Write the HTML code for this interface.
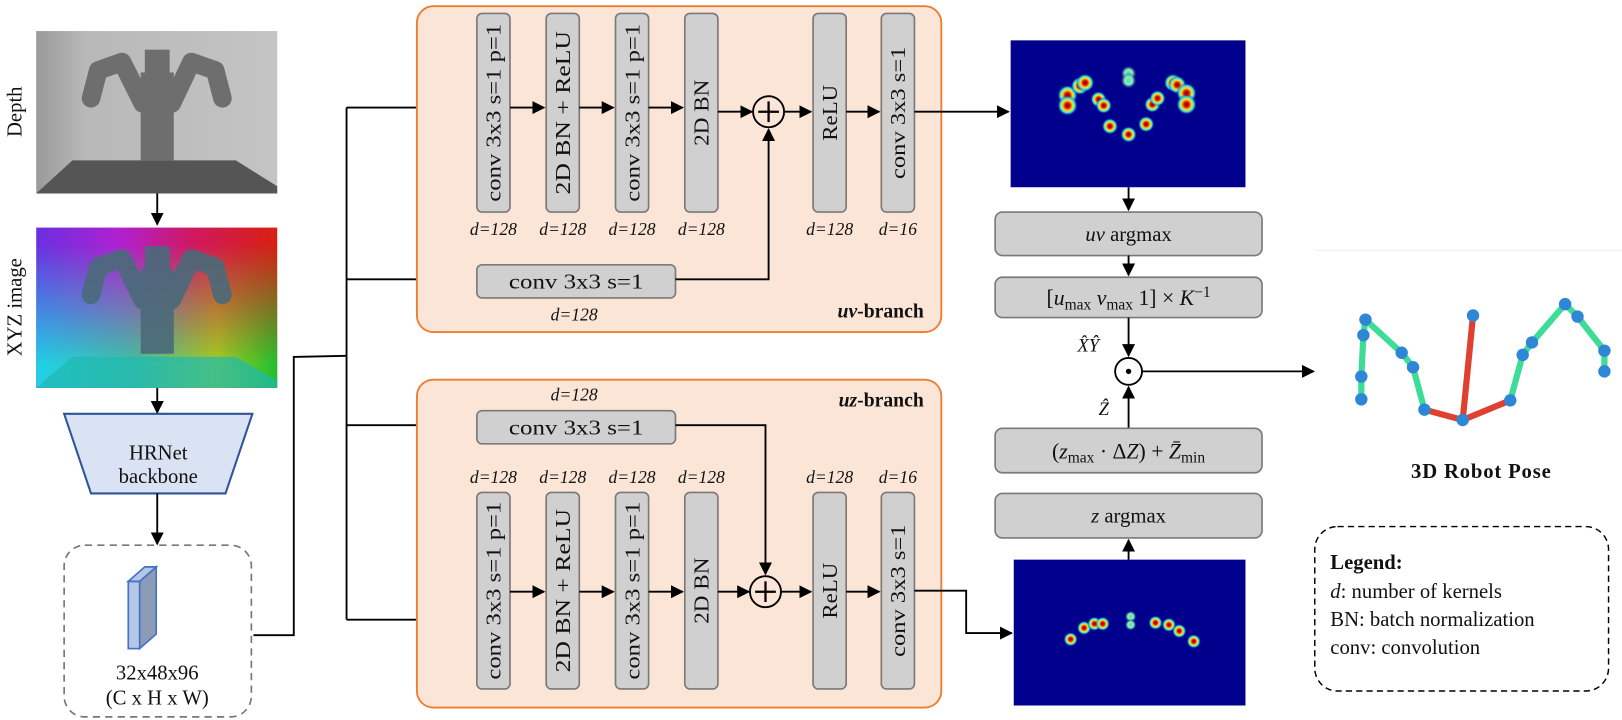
<!DOCTYPE html>
<html><head><meta charset="utf-8"><style>
html,body{margin:0;padding:0;background:#fff;}
svg{display:block;}
text{font-family:"Liberation Serif",serif;fill:#111;}
.bx{fill:#d0d0d0;stroke:#7a7a7a;stroke-width:1.6;}
.ln{stroke:#000;stroke-width:1.8;fill:none;}
.d{font-style:italic;font-size:17px;}
.t{font-size:20px;}
</style></head><body>
<svg width="1622" height="720" viewBox="0 0 1568 696" xmlns="http://www.w3.org/2000/svg">
<defs>
<marker id="a" viewBox="0 0 10 10" refX="9" refY="5" markerWidth="7" markerHeight="7" orient="auto-start-reverse"><path d="M0,0L10,5L0,10z" fill="#000"/></marker>
<radialGradient id="blob"><stop offset="0" stop-color="#800000"/><stop offset="0.25" stop-color="#e01010"/><stop offset="0.5" stop-color="#ffe020"/><stop offset="0.72" stop-color="#30e0e0"/><stop offset="1" stop-color="#0000a0" stop-opacity="0"/></radialGradient>
<radialGradient id="blob2"><stop offset="0" stop-color="#40e0f0"/><stop offset="0.5" stop-color="#90f0a0"/><stop offset="1" stop-color="#0000a0" stop-opacity="0"/></radialGradient>
<linearGradient id="dg" x1="0" x2="1"><stop offset="0" stop-color="#9a9a9a"/><stop offset="0.2" stop-color="#b8b8b8"/><stop offset="1" stop-color="#c4c4c4"/></linearGradient>
<linearGradient id="xt" x1="0" x2="1"><stop offset="0" stop-color="#6a30e0"/><stop offset="0.35" stop-color="#b020d0"/><stop offset="0.65" stop-color="#d01860"/><stop offset="1" stop-color="#d82010"/></linearGradient>
<linearGradient id="xb" x1="0" x2="1"><stop offset="0" stop-color="#20d0e8"/><stop offset="0.4" stop-color="#40c0a0"/><stop offset="0.75" stop-color="#a0d020"/><stop offset="1" stop-color="#20c030"/></linearGradient>
<linearGradient id="vm" x1="0" y1="0" x2="0" y2="1"><stop offset="0.1" stop-color="#fff" stop-opacity="0"/><stop offset="0.85" stop-color="#fff" stop-opacity="1"/></linearGradient>
<mask id="m"><rect x="35" y="220" width="233" height="155" fill="url(#vm)"/></mask>
</defs>

<!-- labels -->
<text transform="translate(21,108) rotate(-90)" text-anchor="middle" font-size="20">Depth</text>
<text transform="translate(21,297) rotate(-90)" text-anchor="middle" font-size="20">XYZ image</text>

<!-- depth image -->
<rect x="35" y="30" width="233" height="157" fill="url(#dg)"/>
<path d="M35,187 L70,155 L228,155 L268,180 L268,187 Z" fill="#555"/>
<g stroke="#6e6e6e" fill="none" stroke-linecap="round" stroke-linejoin="round">
<path d="M88,95 L95,68 L118,60 L138,100" stroke-width="18"/>
<path d="M215,95 L208,68 L185,60 L166,100" stroke-width="18"/>
<rect x="140" y="48" width="24" height="24" fill="#6e6e6e" stroke="none"/>
<rect x="136" y="70" width="32" height="85" fill="#6e6e6e" stroke="none"/>
</g>
<!-- xyz image -->
<rect x="35" y="220" width="233" height="155" fill="url(#xt)"/>
<rect x="35" y="220" width="233" height="155" fill="url(#xb)" mask="url(#m)"/>
<path d="M35,375 L70,345 L228,345 L268,368 L268,375 Z" fill="#20b8b0" opacity="0.7"/>
<g stroke="#4a6a7a" fill="none" stroke-linecap="round" stroke-linejoin="round" opacity="0.9">
<path d="M88,285 L95,258 L118,250 L138,290" stroke-width="18"/>
<path d="M215,285 L208,258 L185,250 L166,290" stroke-width="18"/>
<rect x="140" y="238" width="24" height="24" fill="#4a6a7a" stroke="none"/>
<rect x="136" y="260" width="32" height="82" fill="#4a6a7a" stroke="none"/>
</g>
<line class="ln" x1="152" y1="187" x2="152" y2="217" marker-end="url(#a)"/>
<line class="ln" x1="152" y1="375" x2="152" y2="399" marker-end="url(#a)"/>
<path d="M62,400 L244,400 L218,477 L88,477 Z" fill="#dae3f3" stroke="#2f5597" stroke-width="2"/>
<text x="153" y="444" text-anchor="middle" font-size="20">HRNet</text>
<text x="153" y="467" text-anchor="middle" font-size="20">backbone</text>
<line class="ln" x1="152" y1="477" x2="152" y2="526" marker-end="url(#a)"/>
<rect x="62" y="527" width="181" height="166" rx="20" fill="none" stroke="#777" stroke-width="1.6" stroke-dasharray="7,5"/>
<path d="M135,562 L151,548 L151,613 L135,627 Z" fill="#8c9bb8" stroke="#4472c4" stroke-width="1.6"/>
<rect x="124" y="562" width="11" height="65" fill="#b4c7e7" stroke="#4472c4" stroke-width="1.6"/>
<path d="M124,562 L140,548 L151,548 L135,562 Z" fill="#b4c7e7" stroke="#4472c4" stroke-width="1.6"/>
<text x="152" y="657" text-anchor="middle" font-size="20">32x48x96</text>
<text x="152" y="681" text-anchor="middle" font-size="20">(C x H x W)</text>

<!-- connectors -->
<path class="ln" d="M245,614 L284,614 L284,345 L335,344"/>
<line class="ln" x1="335" y1="104" x2="335" y2="599"/>
<line class="ln" x1="335" y1="104" x2="459" y2="104" marker-end="url(#a)"/>
<line class="ln" x1="335" y1="270" x2="459" y2="270" marker-end="url(#a)"/>
<line class="ln" x1="335" y1="411" x2="459" y2="411" marker-end="url(#a)"/>
<line class="ln" x1="335" y1="599" x2="459" y2="599" marker-end="url(#a)"/>

<!-- uv branch -->
<rect x="403" y="6" width="507" height="315" rx="16" fill="#fbe5d6" stroke="#ed7d31" stroke-width="1.8"/>
<rect class="bx" x="461" y="13" width="32" height="192" rx="5"/>
<rect class="bx" x="528" y="13" width="32" height="192" rx="5"/>
<rect class="bx" x="595" y="13" width="32" height="192" rx="5"/>
<rect class="bx" x="662" y="13" width="32" height="192" rx="5"/>
<rect class="bx" x="786" y="13" width="32" height="192" rx="5"/>
<rect class="bx" x="852" y="13" width="32" height="192" rx="5"/>
<text class="t" transform="translate(484,109) rotate(-90)" text-anchor="middle" textLength="172" lengthAdjust="spacingAndGlyphs">conv 3x3 s=1 p=1</text>
<text class="t" transform="translate(551,109) rotate(-90)" text-anchor="middle" textLength="158" lengthAdjust="spacingAndGlyphs">2D BN + ReLU</text>
<text class="t" transform="translate(618,109) rotate(-90)" text-anchor="middle" textLength="172" lengthAdjust="spacingAndGlyphs">conv 3x3 s=1 p=1</text>
<text class="t" transform="translate(685,109) rotate(-90)" text-anchor="middle" textLength="64" lengthAdjust="spacingAndGlyphs">2D BN</text>
<text class="t" transform="translate(809,109) rotate(-90)" text-anchor="middle" textLength="54" lengthAdjust="spacingAndGlyphs">ReLU</text>
<text class="t" transform="translate(875,109) rotate(-90)" text-anchor="middle" textLength="128" lengthAdjust="spacingAndGlyphs">conv 3x3 s=1</text>
<line class="ln" x1="493" y1="104" x2="526" y2="104" marker-end="url(#a)"/>
<line class="ln" x1="560" y1="104" x2="593" y2="104" marker-end="url(#a)"/>
<line class="ln" x1="627" y1="104" x2="660" y2="104" marker-end="url(#a)"/>
<line class="ln" x1="694" y1="108" x2="727" y2="108" marker-end="url(#a)"/>
<circle cx="743" cy="108" r="15" fill="none" stroke="#000" stroke-width="1.8"/>
<path d="M733,108H753M743,98V118" stroke="#000" stroke-width="2.2"/>
<line class="ln" x1="758" y1="108" x2="784" y2="108" marker-end="url(#a)"/>
<line class="ln" x1="818" y1="108" x2="850" y2="108" marker-end="url(#a)"/>
<text class="d" x="477" y="227" text-anchor="middle">d=128</text>
<text class="d" x="544" y="227" text-anchor="middle">d=128</text>
<text class="d" x="611" y="227" text-anchor="middle">d=128</text>
<text class="d" x="678" y="227" text-anchor="middle">d=128</text>
<text class="d" x="802" y="227" text-anchor="middle">d=128</text>
<text class="d" x="868" y="227" text-anchor="middle">d=16</text>
<rect class="bx" x="461" y="256" width="192" height="32" rx="5"/>
<text class="t" x="557" y="279" text-anchor="middle" textLength="130" lengthAdjust="spacingAndGlyphs">conv 3x3 s=1</text>
<text class="d" x="555" y="310" text-anchor="middle">d=128</text>
<path class="ln" d="M653,270 L743,270 L743,125" marker-end="url(#a)"/>
<text x="893" y="307" text-anchor="end" font-size="19" font-weight="bold"><tspan font-style="italic">uv</tspan>-branch</text>

<!-- uz branch -->
<rect x="403" y="367" width="507" height="317" rx="16" fill="#fbe5d6" stroke="#ed7d31" stroke-width="1.8"/>
<text x="893" y="393" text-anchor="end" font-size="19" font-weight="bold"><tspan font-style="italic">uz</tspan>-branch</text>
<text class="d" x="555" y="387" text-anchor="middle">d=128</text>
<rect class="bx" x="461" y="397" width="192" height="32" rx="5"/>
<text class="t" x="557" y="420" text-anchor="middle" textLength="130" lengthAdjust="spacingAndGlyphs">conv 3x3 s=1</text>
<path class="ln" d="M653,411 L740,411 L740,555" marker-end="url(#a)"/>
<rect class="bx" x="461" y="476" width="32" height="190" rx="5"/>
<rect class="bx" x="528" y="476" width="32" height="190" rx="5"/>
<rect class="bx" x="595" y="476" width="32" height="190" rx="5"/>
<rect class="bx" x="662" y="476" width="32" height="190" rx="5"/>
<rect class="bx" x="786" y="476" width="32" height="190" rx="5"/>
<rect class="bx" x="852" y="476" width="32" height="190" rx="5"/>
<text class="t" transform="translate(484,571) rotate(-90)" text-anchor="middle" textLength="172" lengthAdjust="spacingAndGlyphs">conv 3x3 s=1 p=1</text>
<text class="t" transform="translate(551,571) rotate(-90)" text-anchor="middle" textLength="158" lengthAdjust="spacingAndGlyphs">2D BN + ReLU</text>
<text class="t" transform="translate(618,571) rotate(-90)" text-anchor="middle" textLength="172" lengthAdjust="spacingAndGlyphs">conv 3x3 s=1 p=1</text>
<text class="t" transform="translate(685,571) rotate(-90)" text-anchor="middle" textLength="64" lengthAdjust="spacingAndGlyphs">2D BN</text>
<text class="t" transform="translate(809,571) rotate(-90)" text-anchor="middle" textLength="54" lengthAdjust="spacingAndGlyphs">ReLU</text>
<text class="t" transform="translate(875,571) rotate(-90)" text-anchor="middle" textLength="128" lengthAdjust="spacingAndGlyphs">conv 3x3 s=1</text>
<text class="d" x="477" y="467" text-anchor="middle">d=128</text>
<text class="d" x="544" y="467" text-anchor="middle">d=128</text>
<text class="d" x="611" y="467" text-anchor="middle">d=128</text>
<text class="d" x="678" y="467" text-anchor="middle">d=128</text>
<text class="d" x="802" y="467" text-anchor="middle">d=128</text>
<text class="d" x="868" y="467" text-anchor="middle">d=16</text>
<line class="ln" x1="493" y1="572" x2="526" y2="572" marker-end="url(#a)"/>
<line class="ln" x1="560" y1="572" x2="593" y2="572" marker-end="url(#a)"/>
<line class="ln" x1="627" y1="572" x2="660" y2="572" marker-end="url(#a)"/>
<line class="ln" x1="694" y1="572" x2="724" y2="572" marker-end="url(#a)"/>
<circle cx="740" cy="572" r="15" fill="none" stroke="#000" stroke-width="1.8"/>
<path d="M730,572H750M740,562V582" stroke="#000" stroke-width="2.2"/>
<line class="ln" x1="755" y1="572" x2="784" y2="572" marker-end="url(#a)"/>
<line class="ln" x1="818" y1="572" x2="850" y2="572" marker-end="url(#a)"/>

<!-- outputs -->
<line class="ln" x1="884" y1="108" x2="975" y2="108" marker-end="url(#a)"/>
<path class="ln" d="M884,571 L934,571 L934,612 L978,612" marker-end="url(#a)"/>

<rect x="977" y="39" width="227" height="142" fill="#00008c"/>
<g fill="url(#blob)">
<circle cx="1032" cy="92" r="10"/><circle cx="1032" cy="102" r="10"/>
<circle cx="1044" cy="83" r="9"/><circle cx="1049" cy="80" r="9"/>
<circle cx="1062" cy="96" r="8"/><circle cx="1067" cy="102" r="8"/>
<circle cx="1073" cy="122" r="8"/><circle cx="1091" cy="130" r="8"/>
<circle cx="1108" cy="120" r="8"/><circle cx="1114" cy="101" r="8"/><circle cx="1119" cy="95" r="8"/>
<circle cx="1134" cy="80" r="9"/><circle cx="1138" cy="82" r="9"/>
<circle cx="1147" cy="90" r="10"/><circle cx="1147" cy="101" r="10"/>
</g>
<g fill="url(#blob2)"><circle cx="1091" cy="71" r="8"/><circle cx="1091" cy="78" r="8"/></g>

<rect x="980" y="541" width="224" height="141" fill="#00008c"/>
<g fill="url(#blob)">
<circle cx="1035" cy="618" r="7"/><circle cx="1048" cy="607" r="7"/><circle cx="1058" cy="603" r="7"/><circle cx="1066" cy="603" r="7"/>
<circle cx="1117" cy="602" r="7"/><circle cx="1130" cy="604" r="7"/><circle cx="1140" cy="610" r="7"/><circle cx="1154" cy="620" r="7"/>
</g>
<g fill="url(#blob2)"><circle cx="1093" cy="596" r="6"/><circle cx="1093" cy="604" r="6"/></g>

<line class="ln" x1="1091" y1="181" x2="1091" y2="203" marker-end="url(#a)"/>
<rect class="bx" x="962" y="205" width="258" height="42" rx="7"/>
<text x="1091" y="233" text-anchor="middle" font-size="20"><tspan font-style="italic">uv</tspan> argmax</text>
<line class="ln" x1="1091" y1="247" x2="1091" y2="266" marker-end="url(#a)"/>
<rect class="bx" x="962" y="268" width="258" height="39" rx="7"/>
<text x="1091" y="295" text-anchor="middle" font-size="21">[<tspan font-style="italic">u</tspan><tspan font-size="15" dy="4">max</tspan><tspan dy="-4"> </tspan><tspan font-style="italic">v</tspan><tspan font-size="15" dy="4">max</tspan><tspan dy="-4"> 1] × </tspan><tspan font-style="italic">K</tspan><tspan font-size="15" dy="-8">−1</tspan></text>
<line class="ln" x1="1091" y1="307" x2="1091" y2="344" marker-end="url(#a)"/>
<text x="1052" y="340" text-anchor="middle" font-size="18" font-style="italic">X̂Ŷ</text>
<circle cx="1091" cy="359" r="13" fill="#fff" stroke="#000" stroke-width="1.8"/>
<circle cx="1091" cy="359" r="2.6" fill="#000"/>
<line class="ln" x1="1104" y1="359" x2="1270" y2="359" marker-end="url(#a)"/>
<line class="ln" x1="1091" y1="414" x2="1091" y2="374" marker-end="url(#a)"/>
<text x="1067" y="401" text-anchor="middle" font-size="18" font-style="italic">Ẑ</text>
<rect class="bx" x="962" y="414" width="258" height="43" rx="7"/>
<text x="1091" y="443" text-anchor="middle" font-size="21">(<tspan font-style="italic">z</tspan><tspan font-size="15" dy="4">max</tspan><tspan dy="-4"> · Δ</tspan><tspan font-style="italic">Z</tspan>) + <tspan font-style="italic">Z̄</tspan><tspan font-size="15" dy="4">min</tspan></text>
<rect class="bx" x="962" y="477" width="258" height="43" rx="7"/>
<text x="1091" y="505" text-anchor="middle" font-size="20"><tspan font-style="italic">z</tspan> argmax</text>
<line class="ln" x1="1091" y1="541" x2="1091" y2="522" marker-end="url(#a)"/>

<line x1="1271" y1="242" x2="1568" y2="242" stroke="#eee" stroke-width="1"/>

<!-- 3D pose -->
<g stroke-linecap="round" fill="none" stroke-width="6">
<polyline stroke="#3ddc97" points="1316,386 1316,364 1318,324 1320,309 1355,341 1366,355 1377,396"/>
<polyline stroke="#3ddc97" points="1460,387 1472,343 1481,331 1513,294 1525,306 1551,339 1551,359"/>
<polyline stroke="#e04030" points="1377,396 1414,406 1460,387"/>
<line stroke="#e04030" x1="1414" y1="406" x2="1424" y2="305"/>
</g>
<g fill="#2e86d6">
<circle cx="1316" cy="386" r="6"/><circle cx="1316" cy="364" r="6"/><circle cx="1318" cy="324" r="6"/><circle cx="1320" cy="309" r="6"/>
<circle cx="1355" cy="341" r="6"/><circle cx="1366" cy="355" r="6"/><circle cx="1377" cy="396" r="6"/><circle cx="1414" cy="406" r="6"/>
<circle cx="1424" cy="305" r="6"/><circle cx="1460" cy="387" r="6"/><circle cx="1472" cy="343" r="6"/><circle cx="1481" cy="331" r="6"/>
<circle cx="1513" cy="294" r="6"/><circle cx="1525" cy="306" r="6"/><circle cx="1551" cy="339" r="6"/><circle cx="1551" cy="359" r="6"/>
</g>
<text x="1432" y="462" text-anchor="middle" font-size="20" font-weight="bold" letter-spacing="0.8">3D Robot Pose</text>

<!-- legend -->
<rect x="1271" y="509" width="284" height="159" rx="22" fill="none" stroke="#000" stroke-width="1.4" stroke-dasharray="6,4"/>
<text x="1286" y="550" font-size="20" font-weight="bold">Legend:</text>
<text x="1286" y="578" font-size="20"><tspan font-style="italic">d</tspan>: number of kernels</text>
<text x="1286" y="605" font-size="20">BN: batch normalization</text>
<text x="1286" y="632" font-size="20">conv: convolution</text>
</svg>
</body></html>
